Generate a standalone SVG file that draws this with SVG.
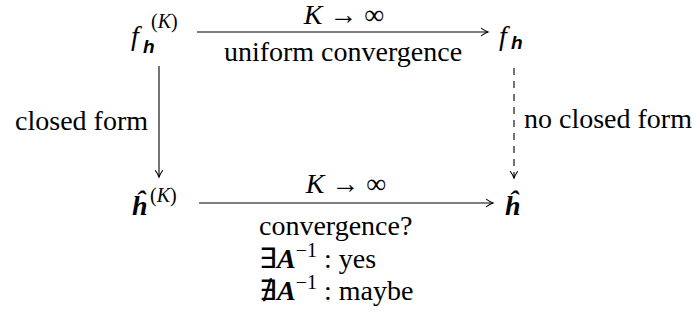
<svg xmlns="http://www.w3.org/2000/svg" width="700" height="323" viewBox="0 0 700 323">
<g id="connectors" stroke="#000" stroke-width="1.1" fill="none">
<line x1="197" y1="32" x2="488" y2="32" marker-end="url(#to)"/>
<line x1="199" y1="203" x2="493" y2="203" marker-end="url(#to)"/>
<line x1="159" y1="66" x2="159" y2="177" marker-end="url(#to)"/>
<line x1="514" y1="68" x2="514" y2="178" stroke-dasharray="7 6" marker-end="url(#to)"/>
</g>
<g id="labels">
<text x="344" y="24" text-anchor="middle" font-family="Times New Roman" font-size="28"><tspan font-style="italic">K</tspan> → ∞</text>
<text x="343" y="61" text-anchor="middle" font-family="Times New Roman" font-size="28">uniform convergence</text>
<text x="148" y="130" text-anchor="end" font-family="Times New Roman" font-size="28">closed form</text>
<text x="524" y="128" font-family="Times New Roman" font-size="28">no closed form</text>
<text x="346" y="193" text-anchor="middle" font-family="Times New Roman" font-size="28"><tspan font-style="italic">K</tspan> → ∞</text>
<text x="259" y="235" font-family="Times New Roman" font-size="28">convergence?</text>
<text x="259" y="268" font-family="Times New Roman" font-size="28">∃<tspan font-style="italic" font-weight="bold">A</tspan><tspan dy="-11" font-size="20">−1</tspan><tspan dy="11"> : yes</tspan></text>
<text x="259" y="300" font-family="Times New Roman" font-size="28">∄<tspan font-style="italic" font-weight="bold">A</tspan><tspan dy="-11" font-size="20">−1</tspan><tspan dy="11"> : maybe</tspan></text>
</g>
<g id="node-fhK">
<text x="131" y="45" font-family="Times New Roman" font-size="28" font-style="italic">f</text>
<text x="143" y="53" font-family="Liberation Sans" font-size="19" font-style="italic" font-weight="bold">h</text>
<text x="151" y="28" font-family="Times New Roman" font-size="20">(<tspan font-style="italic">K</tspan>)</text>
</g>
<g id="node-fh">
<text x="499" y="45" font-family="Times New Roman" font-size="28" font-style="italic">f</text>
<text x="511" y="49" font-family="Liberation Sans" font-size="19" font-style="italic" font-weight="bold">h</text>
</g>
<g id="node-hhatK">
<text x="132" y="215" font-family="Times New Roman" font-size="28" font-style="italic" font-weight="bold">ĥ</text>
<text x="150" y="202" font-family="Times New Roman" font-size="20">(<tspan font-style="italic">K</tspan>)</text>
</g>
<g id="node-hhat">
<text x="505" y="215" font-family="Times New Roman" font-size="28" font-style="italic" font-weight="bold">ĥ</text>
</g>
<defs>
<marker id="to" markerUnits="userSpaceOnUse" markerWidth="12" markerHeight="12" refX="0" refY="0" viewBox="-9 -6 12 12" orient="auto" overflow="visible">
<path d="M-6.5,-3.6 Q-2.5,-0.8 0,0 Q-2.5,0.8 -6.5,3.6" fill="none" stroke="#000" stroke-width="1.1" stroke-linecap="round"/>
</marker>
</defs>
</svg>
